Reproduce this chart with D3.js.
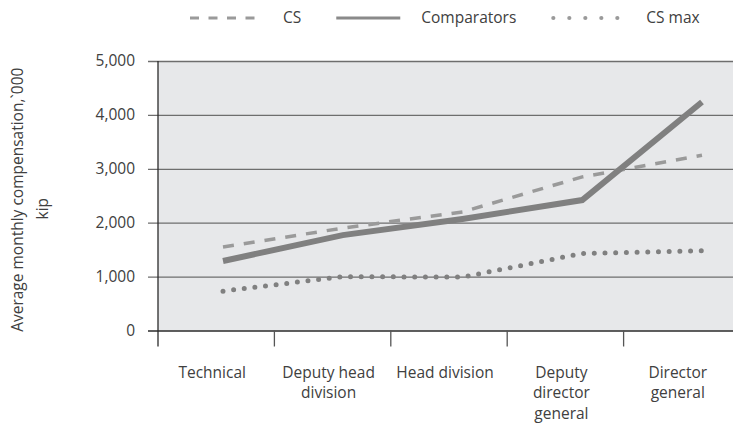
<!DOCTYPE html>
<html>
<head>
<meta charset="utf-8">
<script src="https://cdn.jsdelivr.net/npm/d3@7"></script>
<style>
  html, body { margin: 0; padding: 0; background: #ffffff; }
  svg { display: block; }
  text { font-family: "Open Sans", "Noto Sans", sans-serif; fill: #404040; }
</style>
</head>
<body>
<svg id="chart" width="733" height="423"></svg>
<script>
// ---- data ----
const categories = ["Technical", "Deputy head division", "Head division", "Deputy director general", "Director general"];
const seriesNames = ["CS", "Comparators", "CS max"];
const csValues = [1550, 1900, 2200, 2850, 3250];
const comparatorValues = [1290, 1770, 2070, 2420, 4240];
const csMaxValues = [730, 1000, 990, 1430, 1480];
const yTicks = [0, 1000, 2000, 3000, 4000, 5000];
const yTitle = ["Average monthly compensation,`000", "kip"];

// ---- layout ----
const FS = 15.5;
const plot = { left: 158, top: 61, right: 733, bottom: 330.5 };

const svg = d3.select("#chart");

const y = d3.scaleLinear().domain([0, 5000]).range([plot.bottom, plot.top]);
const xBand = d3.scaleBand().domain(categories).range([plot.left, 740]).paddingInner(0).paddingOuter(0);
const xPt = d3.scalePoint().domain(categories).range([223, 702]);

// background
svg.append("rect")
  .attr("x", plot.left).attr("y", plot.top)
  .attr("width", plot.right - plot.left).attr("height", plot.bottom - plot.top)
  .attr("fill", "#e7e8ea");

// y axis with gridlines
const yAxis = d3.axisLeft(y).tickValues(yTicks).tickFormat(d3.format(","))
  .tickSize(-(plot.right - plot.left)).tickPadding(23);
const gy = svg.append("g").attr("transform", `translate(${plot.left},0)`).call(yAxis);
gy.select(".domain").remove();
gy.selectAll(".tick line")
  .attr("x1", -10)
  .attr("stroke", d => d === 0 ? "#2a2a2a" : "#6e6e6e")
  .attr("stroke-width", 1.3);
gy.selectAll(".tick text").attr("font-size", FS).attr("fill", "#404040")
  .style("font-family", '"Open Sans", sans-serif');

// left axis line
svg.append("line")
  .attr("x1", plot.left).attr("x2", plot.left)
  .attr("y1", plot.top).attr("y2", plot.bottom + 16)
  .attr("stroke", "#2a2a2a").attr("stroke-width", 1.3);

// x axis ticks at band boundaries, labels centered
const gx = svg.append("g").attr("transform", `translate(0,${plot.bottom})`);
gx.selectAll("line.xt").data(categories.slice(1)).join("line")
  .attr("class", "xt")
  .attr("x1", d => xBand(d)).attr("x2", d => xBand(d))
  .attr("y1", 0).attr("y2", 16)
  .attr("stroke", "#555").attr("stroke-width", 1.3);

const labels = gx.selectAll("text.xl").data(categories).join("text")
  .attr("class", "xl")
  .attr("text-anchor", "middle")
  .attr("font-size", FS)
  .attr("x", d => xBand(d) + xBand.bandwidth() / 2 - 4)
  .attr("y", 47);

function wrap(sel, width) {
  sel.each(function(d) {
    const t = d3.select(this);
    const words = d.split(" ");
    const x = t.attr("x");
    t.text(null);
    let line = [];
    let tspan = t.append("tspan").attr("x", x).attr("dy", 0);
    for (const w of words) {
      line.push(w);
      tspan.text(line.join(" "));
      if (tspan.node().getComputedTextLength() > width && line.length > 1) {
        line.pop();
        tspan.text(line.join(" "));
        line = [w];
        tspan = t.append("tspan").attr("x", x).attr("dy", 20.7).text(w);
      }
    }
  });
}
labels.call(wrap, 104);

// y title
const yt = svg.append("text")
  .attr("transform", `translate(23,${(plot.top + plot.bottom) / 2 + 4}) rotate(-90)`)
  .attr("text-anchor", "middle")
  .attr("font-size", FS);
yt.selectAll("tspan").data(yTitle).join("tspan")
  .attr("x", (d, i) => i === 0 ? 0 : -9)
  .attr("dy", (d, i) => i === 0 ? 0 : 25)
  .text(d => d);

// series
const series = [
  { name: seriesNames[0], values: csValues, color: "#9a9a9a", width: 3.5, dash: "11,10", cap: "butt",
    legendColor: "#9a9a9a", legendWidth: 2.8, legendDash: "9,9.5", legendCap: "butt", legendLen: 65, legendGap: 28 },
  { name: seriesNames[1], values: comparatorValues, color: "#808080", width: 6, dash: null, cap: "butt",
    legendColor: "#8a8a8a", legendWidth: 2.8, legendDash: null, legendCap: "butt", legendLen: 64, legendGap: 21 },
  { name: seriesNames[2], values: csMaxValues, color: "#808080", width: 5, dash: "0,10.7", cap: "round",
    legendColor: "#9a9a9a", legendWidth: 4.2, legendDash: "0,16", legendCap: "round", legendLen: 82, legendGap: 13 }
];

const line = d3.line().x((d, i) => xPt(categories[i])).y(d => y(d));

svg.append("g").selectAll("path").data(series).join("path")
  .attr("d", s => line(s.values))
  .attr("fill", "none")
  .attr("stroke", s => s.color)
  .attr("stroke-width", s => s.width)
  .attr("stroke-dasharray", s => s.dash)
  .attr("stroke-linecap", s => s.cap)
  .attr("stroke-linejoin", "miter");

// legend
const legend = svg.append("g");
let lx = 190;
const ly = 18;
series.forEach(s => {
  legend.append("line")
    .attr("x1", lx + (s.legendCap === "round" ? 2 : 0)).attr("x2", lx + s.legendLen)
    .attr("y1", ly).attr("y2", ly)
    .attr("stroke", s.legendColor)
    .attr("stroke-width", s.legendWidth)
    .attr("stroke-dasharray", s.legendDash)
    .attr("stroke-linecap", s.legendCap);
  const t = legend.append("text")
    .attr("x", lx + s.legendLen + s.legendGap).attr("y", ly + 5)
    .attr("font-size", FS)
    .text(s.name);
  lx = lx + s.legendLen + s.legendGap + t.node().getComputedTextLength() + 35;
});
</script>
</body>
</html>
